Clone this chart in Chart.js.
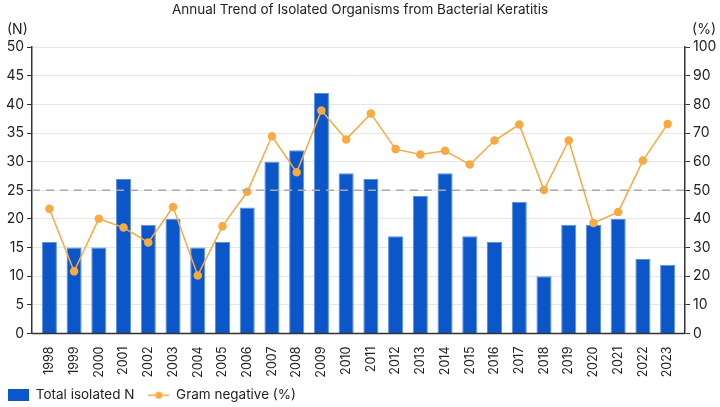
<!DOCTYPE html>
<html>
<head>
<meta charset="utf-8">
<script src="https://cdn.jsdelivr.net/npm/chart.js@4.4.0/dist/chart.umd.min.js"></script>
<style>
  html, body { margin: 0; padding: 0; background: #fff; }
  #wrap { width: 720px; height: 407px; }
</style>
</head>
<body>
<div id="wrap"><canvas id="grafica"></canvas></div>
<script>
// datos
const anios = ['1998','1999','2000','2001','2002','2003','2004','2005','2006','2007','2008','2009','2010',
  '2011','2012','2013','2014','2015','2016','2017','2018','2019','2020','2021','2022','2023'];
const totalAislados = [16, 15, 15, 27, 19, 20, 15, 16, 22, 30, 32, 42, 28, 27, 17, 24, 28, 17, 16, 23, 10, 19, 19, 20, 13, 12];
const gramNegativo = [43.6, 21.7, 40.1, 37.0, 31.8, 44.2, 20.3, 37.5, 49.5, 68.9, 56.3, 77.9, 67.8,
  76.8, 64.4, 62.5, 63.8, 59.0, 67.4, 73.0, 50.1, 67.4, 38.6, 42.4, 60.4, 73.2];
const lineaReferencia = 25; // en el eje N

const azul = '#0B57CA';
const naranja = '#F7AA42';
const fuente = 'Inter, "Liberation Sans", sans-serif';

// iconos de la leyenda
function iconoBarra() {
  const c = document.createElement('canvas');
  c.width = 21; c.height = 12;
  const ctx = c.getContext('2d');
  ctx.fillStyle = azul;
  ctx.fillRect(0, 0, 21, 12);
  return c;
}
function iconoLinea() {
  const c = document.createElement('canvas');
  c.width = 21; c.height = 12;
  const ctx = c.getContext('2d');
  ctx.strokeStyle = naranja;
  ctx.lineWidth = 1.5;
  ctx.beginPath(); ctx.moveTo(0, 6); ctx.lineTo(21, 6); ctx.stroke();
  ctx.fillStyle = naranja;
  ctx.beginPath(); ctx.arc(10.5, 6, 3.5, 0, Math.PI * 2); ctx.fill();
  return c;
}

// linea punteada, eje x y titulos de ejes
const extras = {
  id: 'extras',
  afterDatasetsDraw(chart) {
    const { ctx, chartArea, scales } = chart;
    const y = scales.y.getPixelForValue(lineaReferencia);
    ctx.save();
    ctx.strokeStyle = '#A9A9A9';
    ctx.lineWidth = 1.5;
    ctx.setLineDash([8, 6]);
    ctx.beginPath();
    ctx.moveTo(chartArea.left, y);
    ctx.lineTo(chartArea.right, y);
    ctx.stroke();
    ctx.restore();
  },
  afterDraw(chart) {
    const { ctx, chartArea } = chart;
    ctx.save();
    ctx.strokeStyle = '#333';
    ctx.lineWidth = 1.5;
    ctx.beginPath();
    ctx.moveTo(chartArea.left, chartArea.bottom);
    ctx.lineTo(chartArea.right, chartArea.bottom);
    ctx.stroke();
    ctx.fillStyle = '#222';
    ctx.font = '14px ' + fuente;
    ctx.textBaseline = 'middle';
    ctx.textAlign = 'left';
    ctx.fillText('(N)', 7, chartArea.top - 17);
    ctx.textAlign = 'right';
    ctx.fillText('(%)', 716, chartArea.top - 17);
    ctx.restore();
  },
  afterLayout(chart) {
    chart.legend.left -= 6;
    const x = chart.scales.x;
    // un poco de margen interior a los lados de las barras
    x.left += 5;
    x.right -= 5;
    x.width = x.right - x.left;
    // que no se recorten las etiquetas del eje x
    x.bottom = chart.height;
    x.configure();
  }
};

const grafica = new Chart(document.getElementById('grafica'), {
  data: {
    labels: anios,
    datasets: [
      {
        type: 'line',
        label: 'Gram negative (%)',
        data: gramNegativo,
        yAxisID: 'y1',
        borderColor: naranja,
        backgroundColor: naranja,
        borderWidth: 1.5,
        pointRadius: 3.5,
        pointHoverRadius: 3.5,
        tension: 0,
        order: 0
      },
      {
        type: 'bar',
        label: 'Total isolated N',
        data: totalAislados,
        yAxisID: 'y',
        backgroundColor: azul,
        borderColor: '#5C90DE',
        borderWidth: 1,
        barPercentage: 0.61,
        categoryPercentage: 1,
        order: 1
      }
    ]
  },
  options: {
    responsive: true,
    maintainAspectRatio: false,
    animation: false,
    layout: { padding: { left: 0, right: 0, top: 0, bottom: -5 } },
    plugins: {
      title: {
        display: true,
        text: 'Annual Trend of Isolated Organisms from Bacterial Keratitis',
        color: '#222',
        font: { family: fuente, size: 13.5, weight: 'normal' },
        padding: { top: 2, bottom: 29 }
      },
      legend: {
        position: 'bottom',
        align: 'start',
        reverse: true,
        labels: {
          usePointStyle: true,
          pointStyleWidth: 21,
          boxHeight: 12,
          padding: 14,
          color: '#222',
          font: { family: fuente, size: 13.5 },
          generateLabels(chart) {
            return chart.data.datasets.map((ds, i) => ({
              text: ds.label,
              pointStyle: ds.type === 'bar' ? iconoBarra() : iconoLinea(),
              fillStyle: ds.backgroundColor,
              strokeStyle: ds.borderColor,
              lineWidth: 0,
              fontColor: '#222',
              hidden: false,
              datasetIndex: i
            }));
          }
        }
      },
      tooltip: { enabled: false }
    },
    scales: {
      x: {
        grid: { display: false },
        border: { display: false },
        ticks: {
          color: '#222',
          font: { family: fuente, size: 12.5 },
          minRotation: 90,
          maxRotation: 90,
          autoSkip: false,
          padding: 5
        },
        afterFit(s) { s.height = 41; }
      },
      y: {
        position: 'left',
        min: 0,
        max: 50,
        ticks: {
          stepSize: 5,
          color: '#222',
          font: { family: fuente, size: 14 },
          padding: 3
        },
        grid: { color: '#E6E6E6', lineWidth: 1, tickLength: 5, tickColor: '#333' },
        border: { display: true, color: '#333', width: 1.5 },
        afterFit(s) { s.width = 32; }
      },
      y1: {
        position: 'right',
        min: 0,
        max: 100,
        ticks: {
          stepSize: 10,
          color: '#222',
          font: { family: fuente, size: 14 },
          padding: 3
        },
        grid: { drawOnChartArea: false, tickLength: 5, color: '#333' },
        border: { display: true, color: '#333', width: 1.5 },
        afterFit(s) { s.width = 35; }
      }
    }
  },
  plugins: [extras]
});
</script>
</body>
</html>
